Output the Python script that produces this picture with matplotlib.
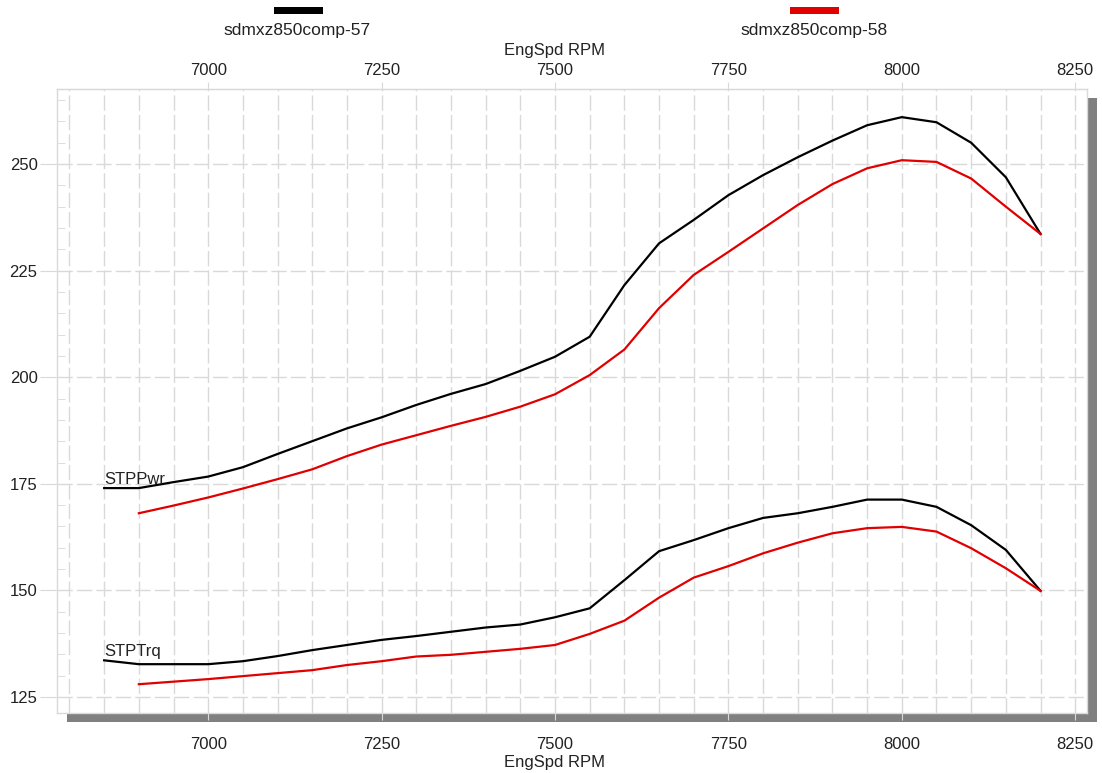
import matplotlib
matplotlib.use("Agg")
import matplotlib.pyplot as plt
from matplotlib.patches import Rectangle
from matplotlib.ticker import MultipleLocator

plt.rcParams["font.family"] = ["Liberation Sans", "DejaVu Sans"]

# ─── Dyno data (STP corrected) ────────────────────────────────────────────
rpm_57 = [6850, 6900, 6950, 7000, 7050, 7100, 7150, 7200, 7250, 7300,
          7350, 7400, 7450, 7500, 7550, 7600, 7650, 7700, 7750, 7800,
          7850, 7900, 7950, 8000, 8050, 8100, 8150, 8200]
pwr_57 = [174.0, 174.0, 175.4, 176.7, 178.9, 182.0, 185.0, 188.0, 190.6, 193.5,
          196.1, 198.4, 201.5, 204.8, 209.5, 221.6, 231.4, 236.9, 242.7, 247.4,
          251.6, 255.5, 259.1, 261.0, 259.8, 255.0, 246.9, 233.6]
trq_57 = [133.6, 132.7, 132.7, 132.7, 133.4, 134.6, 136.0, 137.2, 138.4, 139.3,
          140.3, 141.3, 142.0, 143.7, 145.8, 152.4, 159.2, 161.8, 164.6, 167.0,
          168.1, 169.6, 171.3, 171.3, 169.6, 165.3, 159.5, 149.9]

rpm_58 = [6900, 6950, 7000, 7050, 7100, 7150, 7200, 7250, 7300, 7350,
          7400, 7450, 7500, 7550, 7600, 7650, 7700, 7750, 7800, 7850,
          7900, 7950, 8000, 8050, 8100, 8150, 8200]
pwr_58 = [168.1, 169.9, 171.8, 173.9, 176.1, 178.4, 181.5, 184.2, 186.4, 188.6,
          190.7, 193.1, 196.0, 200.5, 206.5, 216.2, 224.0, 229.4, 234.9, 240.4,
          245.3, 249.0, 250.9, 250.5, 246.6, 240.0, 233.6]
trq_58 = [128.0, 128.6, 129.2, 129.9, 130.6, 131.3, 132.5, 133.4, 134.5, 134.9,
          135.6, 136.3, 137.2, 139.8, 142.9, 148.3, 153.0, 155.7, 158.7, 161.2,
          163.4, 164.6, 164.9, 163.8, 159.9, 155.2, 149.9]

run_names = ["sdmxz850comp-57", "sdmxz850comp-58"]
run_colors = ["#000000", "#e00000"]
x_label = "EngSpd RPM"

W, H = 1102, 773
fig = plt.figure(figsize=(W / 100, H / 100), dpi=100)
fig.patch.set_facecolor("white")

# plot area in pixels
L, R, T, B = 57, 1087, 89, 713
ax = fig.add_axes([L / W, 1 - B / H, (R - L) / W, (B - T) / H])
ax.set_facecolor("white")

# grey drop shadow behind the plot area
fig.patches.append(Rectangle(((L + 10) / W, 1 - (B + 9) / H), (R - L) / W, (B - T) / H,
                             transform=fig.transFigure, facecolor="#808080",
                             edgecolor="none", zorder=-1))

grid_c = "#d9d9d9"
text_c = "#222222"

for rpm, pwr, trq, c in [(rpm_57, pwr_57, trq_57, run_colors[0]),
                         (rpm_58, pwr_58, trq_58, run_colors[1])]:
    ax.plot(rpm, pwr, color=c, lw=1.6, zorder=3)
    ax.plot(rpm, trq, color=c, lw=1.6, zorder=3)

ax.annotate("STPPwr", (rpm_57[0], pwr_57[0]), xytext=(0, 3), textcoords="offset points",
            va="baseline", ha="left", fontsize=12, color=text_c, zorder=4)
ax.annotate("STPTrq", (rpm_57[0], trq_57[0]), xytext=(0, 3), textcoords="offset points",
            va="baseline", ha="left", fontsize=12, color=text_c, zorder=4)

ax.set_xlim(6782, 8267)
ax.set_ylim(121.25, 267.6)

ax.xaxis.set_major_locator(MultipleLocator(250))
ax.xaxis.set_minor_locator(MultipleLocator(50))
ax.yaxis.set_major_locator(MultipleLocator(25))
ax.yaxis.set_minor_locator(MultipleLocator(5))

dash = (0, (11, 3))
ax.grid(True, which="major", axis="y", color=grid_c, lw=1, ls=dash, zorder=1)
ax.grid(True, which="both", axis="x", color=grid_c, lw=1, ls=dash, zorder=1)
ax.set_axisbelow(True)

ax.tick_params(axis="x", which="major", top=False, bottom=True, labeltop=False,
               direction="out", length=5, color=grid_c, pad=12,
               labelsize=12, labelcolor=text_c)
ax.tick_params(axis="x", which="minor", top=False, bottom=False)
ax.tick_params(axis="y", which="major", left=True, right=False, direction="out",
               length=12, color=grid_c, labelsize=12, labelcolor=text_c, pad=2)
ax.tick_params(axis="y", which="minor", left=True, right=False, direction="in",
               length=6, color=grid_c)

# same rpm scale repeated above the plot
top = ax.secondary_xaxis("top")
top.xaxis.set_major_locator(MultipleLocator(250))
top.tick_params(axis="x", which="major", direction="out", length=5, color=grid_c,
                pad=3, labelsize=12, labelcolor=text_c)
top.tick_params(axis="x", which="minor", top=False)
top.spines["top"].set_color(grid_c)

for sp in ax.spines.values():
    sp.set_color(grid_c)
    sp.set_linewidth(1)

# axis titles and run legend
fig.text(555 / W, 1 - 50 / H, x_label, ha="center", va="center", fontsize=12, color=text_c)
fig.text(555 / W, 1 - 762 / H, x_label, ha="center", va="center", fontsize=12, color=text_c)

legend_pos = [(298, 297), (814, 814)]
for (bar_cx, txt_cx), name, c in zip(legend_pos, run_names, run_colors):
    fig.patches.append(Rectangle(((bar_cx - 24) / W, 1 - 14 / H), 49 / W, 7 / H,
                                 transform=fig.transFigure, facecolor=c, edgecolor="none"))
    fig.text(txt_cx / W, 1 - 31 / H, name, ha="center", va="center", fontsize=12.5, color=text_c)

fig.savefig("out.png", dpi=100, facecolor="white")
